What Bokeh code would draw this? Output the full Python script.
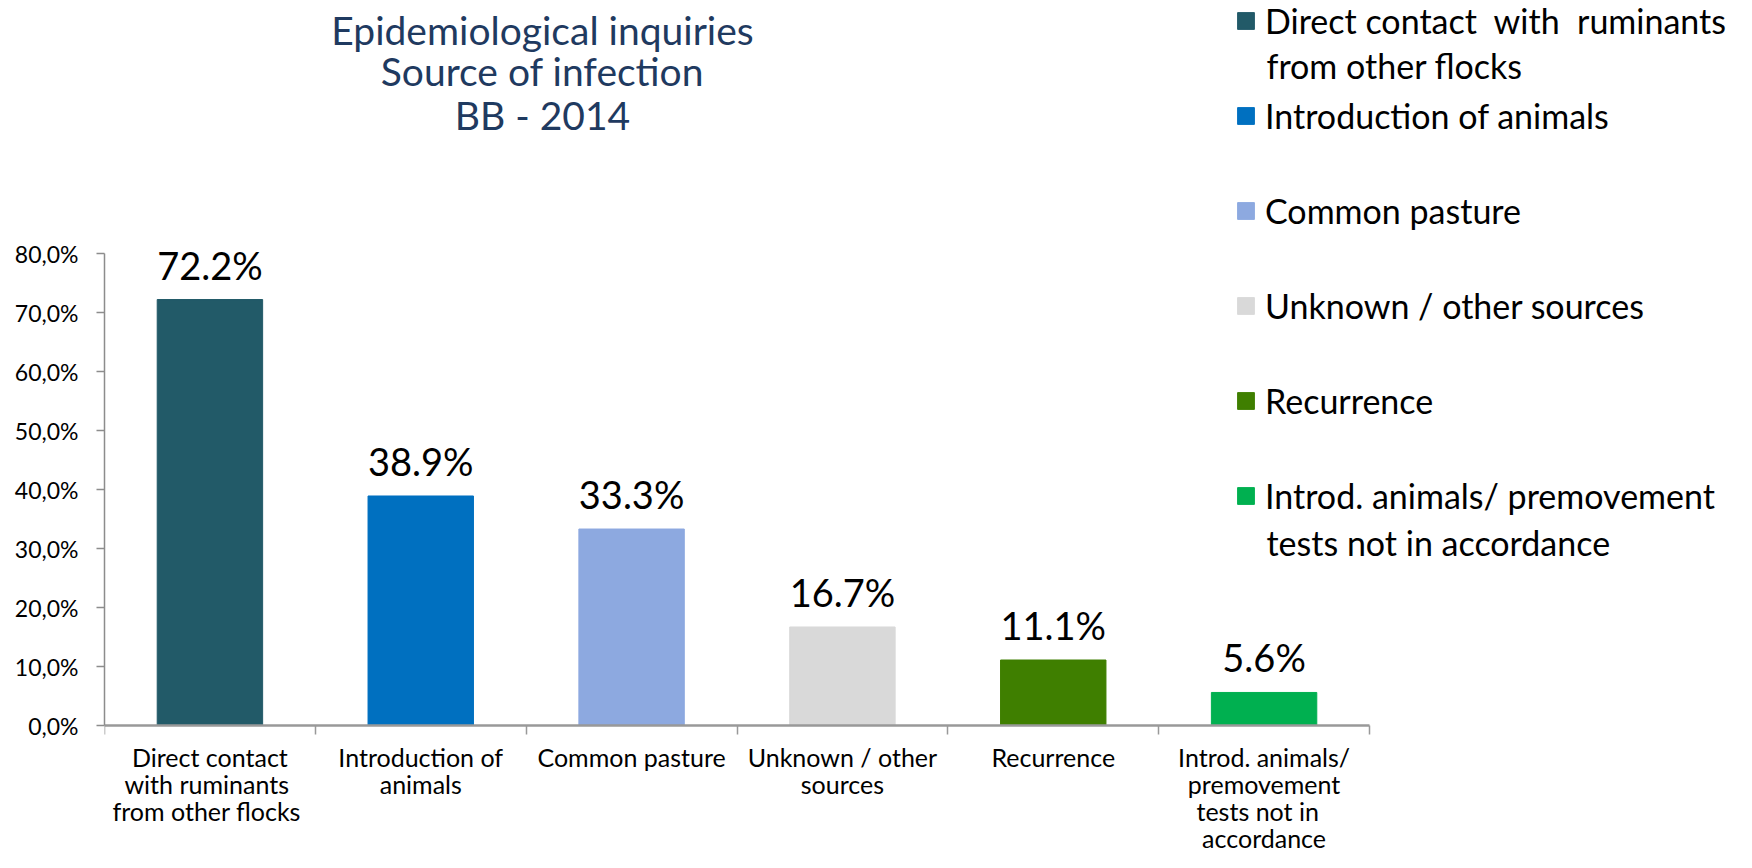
from bokeh.plotting import figure
from bokeh.models import (ColumnDataSource, Range1d, FixedTicker, LabelSet, Label,
                          Legend, LegendItem)
from bokeh.embed import file_html
from bokeh.resources import INLINE
from bokeh.core.properties import value

# ---------------- data ----------------
categories = [
    "Direct contact\nwith  ruminants\nfrom other  flocks",
    "Introduction of\nanimals",
    "Common pasture",
    "Unknown / other\nsources",
    "Recurrence",
    "Introd. animals/\npremovement\ntests  not  in\naccordance",
]
legend_labels = [
    "Direct contact  with  ruminants\nfrom other  flocks",
    "Introduction of animals",
    "Common pasture",
    "Unknown / other sources",
    "Recurrence",
    "Introd. animals/ premovement\ntests  not  in accordance",
]
values = [72.2, 38.9, 33.3, 16.7, 11.1, 5.6]
value_labels = ["72.2%", "38.9%", "33.3%", "16.7%", "11.1%", "5.6%"]
colors = ["#225A68", "#0070C0", "#8DA9E0", "#D9D9D9", "#3F7F00", "#00B050"]
y_ticks = [0, 10, 20, 30, 40, 50, 60, 70, 80]
y_tick_labels = ["0,0%", "10,0%", "20,0%", "30,0%", "40,0%", "50,0%", "60,0%", "70,0%", "80,0%"]
title_lines = ["Epidemiological inquiries", "Source of infection", "BB - 2014"]

# ---------------- geometry / style ----------------
FONT = "Lato"
W, H = 1736, 852
LEFT = 104
ZERO_Y = 725                         # canvas row of the 0 % line
FRAME_W = W - LEFT
PX_X = 1265 / len(categories)      # pixels per category
PX_Y = 472 / 80                      # pixels per percent
x_end = FRAME_W / PX_X
y_start = -(H - ZERO_Y) / PX_Y
y_end = ZERO_Y / PX_Y
TITLE_ROWS = [29, 70, 114]

def ydat(canvas_y):
    return (ZERO_Y - canvas_y) / PX_Y

def xdat(canvas_x):
    return (canvas_x - LEFT) / PX_X

p = figure(width=W, height=H, x_range=Range1d(0, x_end), y_range=Range1d(y_start, y_end),
           output_backend="svg", toolbar_location=None,
           min_border_left=LEFT, min_border_right=0, min_border_top=0,
           min_border_bottom=0)
p.outline_line_color = None
p.xgrid.visible = False
p.ygrid.visible = False
p.background_fill_color = "white"
p.border_fill_color = "white"

centers = [i + 0.5 for i in range(len(categories))]
src = ColumnDataSource(dict(x=centers, top=values, color=colors, lab=value_labels))
bars = p.vbar(x="x", top="top", width=0.5, color="color", source=src)

# data labels
p.add_layout(LabelSet(x="x", y="top", text="lab", source=src, y_offset=20,
                      text_align="center", text_baseline="alphabetic",
                      text_font=value(FONT), text_font_size="38px", text_color="black"))

# y axis
ya = p.yaxis[0]
ya.ticker = FixedTicker(ticks=y_ticks)
ya.major_label_overrides = {t: s for t, s in zip(y_ticks, y_tick_labels)}
ya.bounds = (0, 80)
ya.major_tick_out = 8
ya.major_tick_in = 0
ya.minor_tick_out = 0
ya.minor_tick_in = 0
ya.axis_line_color = "#8C8C8C"
ya.axis_line_width = 1.5
ya.major_tick_line_color = "#8C8C8C"
ya.major_tick_line_width = 1.5
ya.major_label_standoff = 18
ya.major_label_text_font = FONT
ya.major_label_text_font_size = "23px"
ya.major_label_text_color = "black"

# x axis at the 0 line: only tick marks at the category boundaries
xa = p.xaxis[0]
xa.fixed_location = 0
xa.ticker = FixedTicker(ticks=[], minor_ticks=list(range(len(categories) + 1)))
xa.bounds = (0, len(categories))
xa.major_tick_out = 0
xa.major_tick_in = 0
xa.minor_tick_out = 9
xa.minor_tick_in = 0
xa.axis_line_color = "#999999"
xa.axis_line_width = 2.5
xa.minor_tick_line_color = "#999999"
xa.minor_tick_line_width = 1.5
xa.major_label_standoff = 0

# category labels below the axis (one row per text line)
cx, cy, ct = [], [], []
for i, cat in enumerate(categories):
    for j, line in enumerate(cat.split("\n")):
        cx.append(centers[i])
        cy.append(ydat(766 + 27 * j))
        ct.append(line)
p.add_layout(LabelSet(x="x", y="y", text="t", source=ColumnDataSource(dict(x=cx, y=cy, t=ct)),
                      text_align="center", text_baseline="alphabetic",
                      text_font=value(FONT), text_font_size="25px", text_color="black"))

# title
for k, line in enumerate(title_lines):
    p.add_layout(Label(x=xdat(542), y=ydat(TITLE_ROWS[k]), text=line, text_align="center",
                       text_baseline="alphabetic", text_font=FONT,
                       text_font_size="39px", text_color="#1F3A60"))

# legend
items = [LegendItem(label=lbl.split("\n")[0], renderers=[bars], index=i)
         for i, lbl in enumerate(legend_labels)]
legend = Legend(items=items, location=(1235 - LEFT, 208 + (H - ZERO_Y)),
                orientation="vertical",
                glyph_width=21, glyph_height=21, label_standoff=9,
                label_height=44, spacing=51, padding=0, margin=0,
                border_line_color=None, background_fill_alpha=0,
                label_text_font=FONT, label_text_font_size="34px",
                label_text_baseline="alphabetic", label_text_color="black")
p.add_layout(legend)

# legend continuation lines
for i, lbl in enumerate(legend_labels):
    parts = lbl.split("\n")
    for j, line in enumerate(parts[1:], start=1):
        base = 20.0 + 95.4 * i + 44.8 * j
        p.add_layout(Label(x=xdat(1266), y=ydat(base), text=line, text_align="left",
                           text_baseline="alphabetic", text_font=FONT,
                           text_font_size="34px", text_color="black"))

open("out.html", "w").write(file_html(p, INLINE))
